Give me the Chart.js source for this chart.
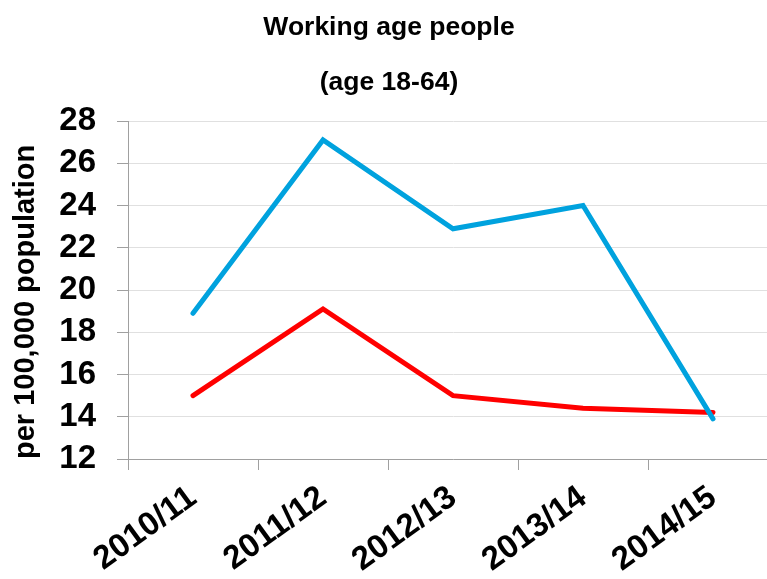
<!DOCTYPE html>
<html>
<head>
<meta charset="utf-8">
<script src="https://cdn.jsdelivr.net/npm/chart.js@4"></script>
<style>
html,body{margin:0;padding:0;background:#fff;overflow:hidden;width:767px;height:579px;}
#wrap{position:absolute;left:0;top:0;width:790px;height:579px;}
</style>
</head>
<body>
<div id="wrap"><canvas id="c" width="790" height="579"></canvas></div>
<script>
const categories = ['2010/11', '2011/12', '2012/13', '2013/14', '2014/15'];
const blueSeries = [18.9, 27.1, 22.9, 24.0, 13.9];
const redSeries = [15.0, 19.1, 15.0, 14.4, 14.2];
const titleLines = ['Working age people', '(age 18-64)'];
const yAxisTitle = 'per 100,000 population';
const yMin = 12, yMax = 28, yStep = 2;

const FONT = "'Liberation Sans', Arial, sans-serif";

new Chart(document.getElementById('c'), {
  type: 'line',
  data: {
    labels: categories,
    datasets: [
      { data: blueSeries, borderColor: '#00a2de', borderWidth: 5, pointRadius: 0, tension: 0, fill: false, borderCapStyle: 'round', borderJoinStyle: 'miter' },
      { data: redSeries, borderColor: '#ff0000', borderWidth: 5, pointRadius: 0, tension: 0, fill: false, borderCapStyle: 'round', borderJoinStyle: 'miter' }
    ]
  },
  options: {
    responsive: false,
    devicePixelRatio: 1,
    animation: false,
    layout: { padding: { left: 0, right: 12, top: 0, bottom: 0 } },
    plugins: {
      legend: { display: false },
      tooltip: { enabled: false },
      title: {
        display: true,
        text: titleLines,
        color: '#000',
        font: { family: FONT, size: 26.5, weight: 'bold', lineHeight: '55px' },
        padding: { top: 0, bottom: 11 }
      }
    },
    scales: {
      x: {
        offset: true,
        afterFit: (s) => { s.height = 120; },
        grid: { offset: true, drawOnChartArea: false, drawTicks: true, tickLength: 11, tickColor: '#a0a0a0' },
        border: { color: '#a0a0a0', width: 1 },
        ticks: {
          autoSkip: false, minRotation: 36, maxRotation: 36, padding: 8,
          color: '#000', font: { family: FONT, size: 33, weight: 'bold' }
        }
      },
      y: {
        min: yMin, max: yMax,
        afterFit: (s) => { s.width = 128; },
        grid: { color: '#e0e0e0', lineWidth: 1, drawTicks: true, tickLength: 11, tickColor: '#a0a0a0' },
        border: { color: '#a0a0a0', width: 1 },
        ticks: {
          stepSize: yStep, padding: 21, autoSkip: false,
          color: '#000', font: { family: FONT, size: 33, weight: 'bold', lineHeight: 1 }
        },
        title: {
          display: true, text: yAxisTitle, color: '#000', align: 'start',
          font: { family: FONT, size: 29, weight: 'bold', lineHeight: 1.2 },
          padding: { top: 9, bottom: 0 }
        }
      }
    }
  }
});
</script>
</body>
</html>
